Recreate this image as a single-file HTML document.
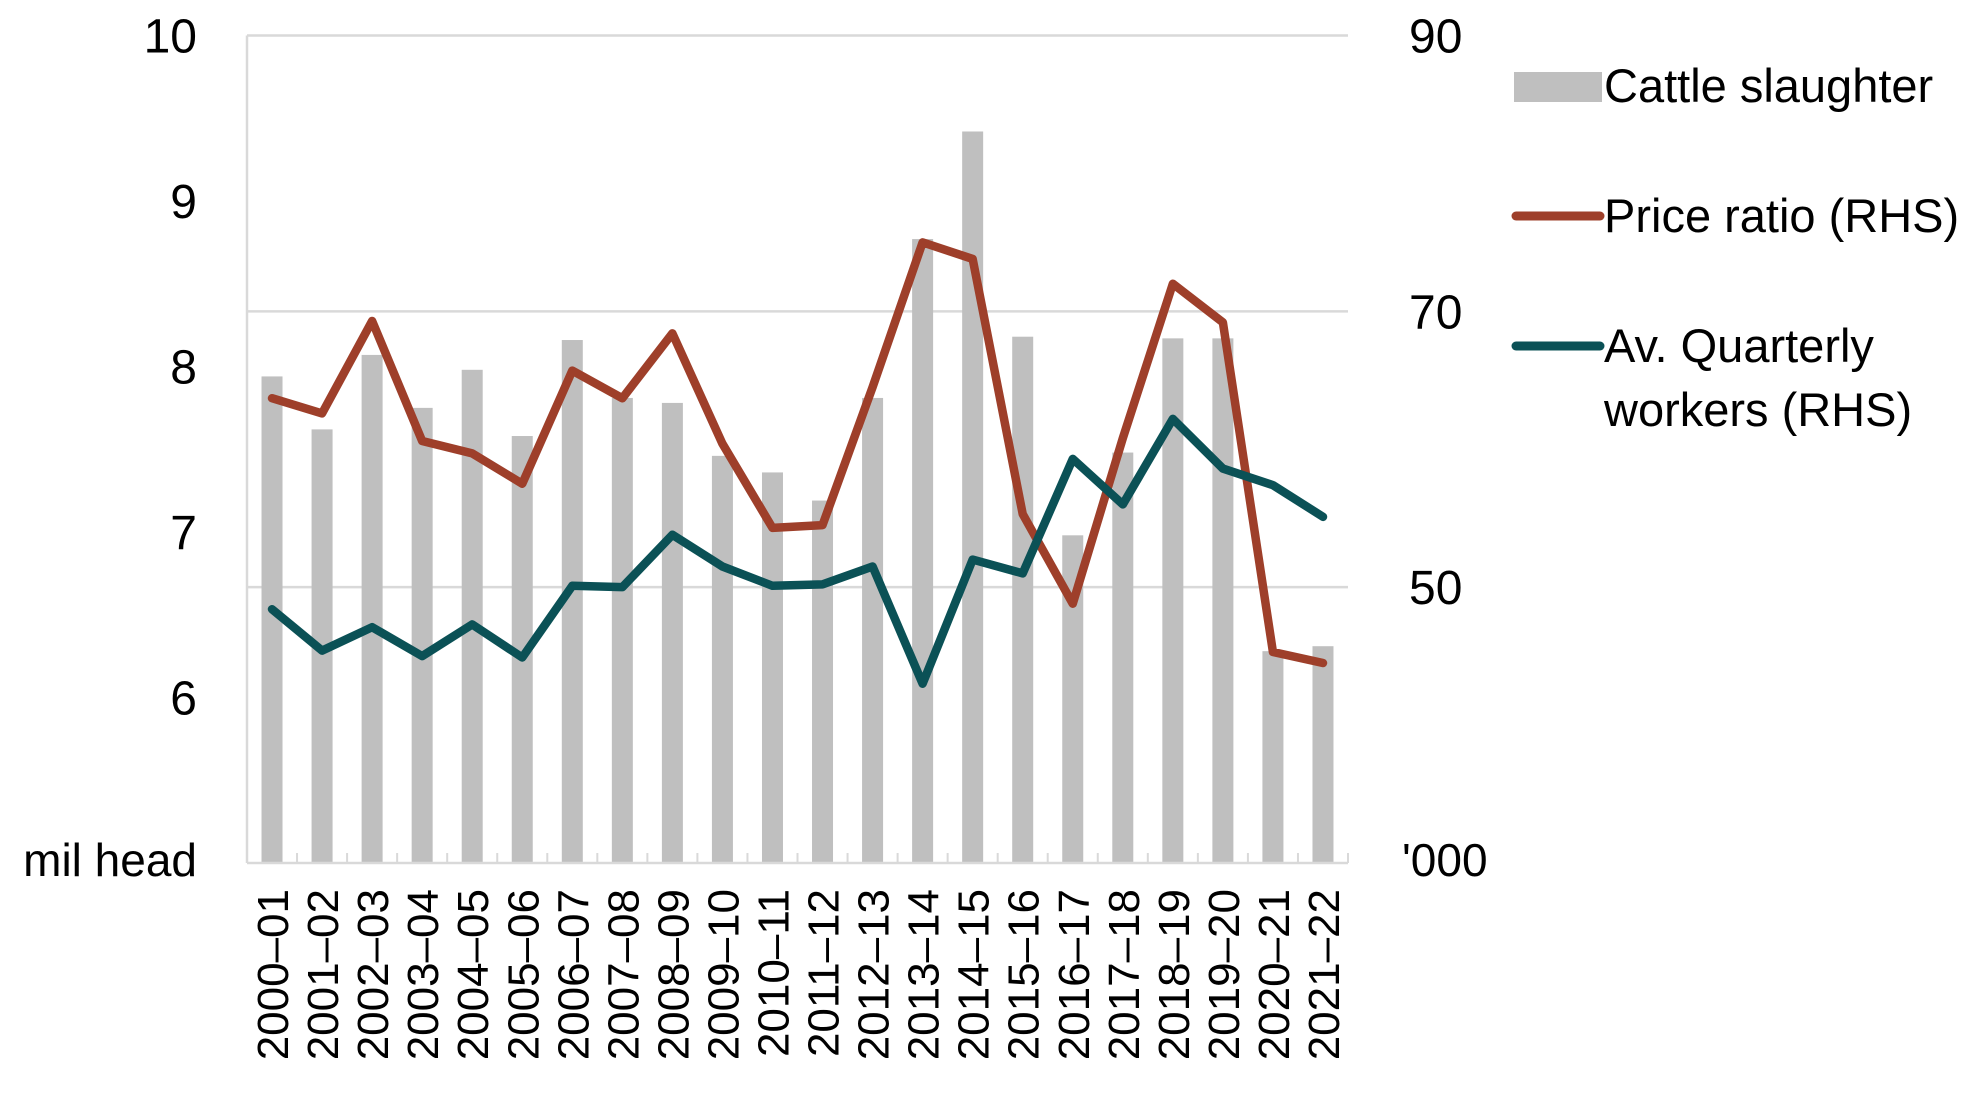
<!DOCTYPE html>
<html><head><meta charset="utf-8"><style>
html,body{margin:0;padding:0;background:#fff;width:1980px;height:1093px;overflow:hidden}
svg{display:block;font-family:"Liberation Sans",sans-serif}
</style></head><body>
<svg id="chart" width="1980" height="1093" viewBox="0 0 1980 1093" xmlns="http://www.w3.org/2000/svg">
<g id="grid"></g>
<g id="bars"></g>
<g id="axes"></g>
<g id="lines"></g>
<g id="labels"></g>
<g>
  <rect x="1514" y="72" width="88" height="30" fill="#bfbfbf"/>
  <text x="1604" y="102" font-size="47" fill="#000">Cattle slaughter</text>
  <line x1="1516" y1="216" x2="1600" y2="216" stroke="#9e3f2a" stroke-width="9" stroke-linecap="round"/>
  <text x="1604" y="232" font-size="47" fill="#000">Price ratio (RHS)</text>
  <line x1="1516" y1="346" x2="1600" y2="346" stroke="#0b5156" stroke-width="9" stroke-linecap="round"/>
  <text x="1604" y="362" font-size="47" fill="#000">Av. Quarterly</text>
  <text x="1604" y="426" font-size="47" fill="#000">workers (RHS)</text>
</g>
</svg>
<script>
const categories=["2000–01","2001–02","2002–03","2003–04","2004–05","2005–06","2006–07","2007–08","2008–09","2009–10","2010–11","2011–12","2012–13","2013–14","2014–15","2015–16","2016–17","2017–18","2018–19","2019–20","2020–21","2021–22"];
const cattle=[7.94,7.62,8.07,7.75,7.98,7.58,8.16,7.81,7.78,7.46,7.36,7.19,7.81,8.77,9.42,8.18,6.98,7.48,8.17,8.17,6.28,6.31];
const priceRatio=[63.7,62.6,69.3,60.6,59.7,57.5,65.7,63.7,68.4,60.4,54.3,54.5,64.5,75.0,73.8,55.3,48.8,60.8,72.0,69.2,45.3,44.5];
const workers=[48.4,45.4,47.1,45.0,47.3,44.9,50.1,50.0,53.8,51.5,50.1,50.2,51.5,43.0,52.0,51.0,59.3,56.0,62.2,58.6,57.4,55.1];
const leftTicks=[6,7,8,9,10];
const rightTicks=[50,70,90];
const NS="http://www.w3.org/2000/svg";
const L=247,R=1348,T=35.5,B=863;
const band=(R-L)/categories.length;
function xC(i){return L+band*(i+0.5);}
function yL(v){return B-(v-5)/5*(B-T);}
function yR(v){return B-(v-30)/60*(B-T);}
function mk(tag,attrs,parent,txt){const e=document.createElementNS(NS,tag);for(const k in attrs)e.setAttribute(k,attrs[k]);if(txt!==undefined)e.textContent=txt;parent.appendChild(e);return e;}
const grid=document.getElementById('grid'),bars=document.getElementById('bars'),axes=document.getElementById('axes'),lines=document.getElementById('lines'),labels=document.getElementById('labels');
rightTicks.forEach(t=>{
  const g=mk('line',{x1:L,x2:R,y1:yR(t),y2:yR(t),stroke:'#d9d9d9','stroke-width':2.5},grid);
  
  
  const tx=mk('text',{x:1409,y:yR(t)+17,'font-size':48,fill:'#000'},labels,String(t));
  
  
});
leftTicks.forEach(t=>{
  const tx=mk('text',{x:197,y:yL(t)+17,'font-size':48,'text-anchor':'end',fill:'#000'},labels,String(t));
  
  
});
const bw=21;
cattle.forEach((v,i)=>{
  const r=mk('rect',{x:xC(i)-bw/2,y:yL(v),width:bw,height:B-yL(v),fill:'#bfbfbf'},bars);
  
  
});
const ax1=mk('line',{x1:L,x2:L,y1:T,y2:B,stroke:'#d9d9d9','stroke-width':2.5},axes);


const ax2=mk('line',{x1:L,x2:R,y1:B,y2:B,stroke:'#d9d9d9','stroke-width':2.5},axes);


for(let i=0;i<=categories.length;i++){
  const tk=mk('line',{x1:L+band*i,x2:L+band*i,y1:B,y2:B-10,stroke:'#d9d9d9','stroke-width':2},axes);
  
  
}
function drawLine(data,color,name){
  const p=mk('polyline',{points:data.map((v,i)=>xC(i)+','+yR(v)).join(' '),fill:'none',stroke:color,'stroke-width':8.5,'stroke-linejoin':'round','stroke-linecap':'round'},lines);
  
  
}
drawLine(priceRatio,'#9e3f2a','price-ratio-line');
drawLine(workers,'#0b5156','workers-line');
categories.forEach((c,i)=>{
  const x=xC(i)+16,y=889;
  const tx=mk('text',{x:x,y:y,'font-size':44,'text-anchor':'end',fill:'#000',transform:'rotate(-90 '+x+' '+y+')'},labels,c);
  
  
});
const u1=mk('text',{x:197,y:876,'font-size':46,'text-anchor':'end',fill:'#000'},labels,'mil head');


const u2=mk('text',{x:1402,y:876,'font-size':46,fill:'#000'},labels,"'000");


</script>
</body></html>
